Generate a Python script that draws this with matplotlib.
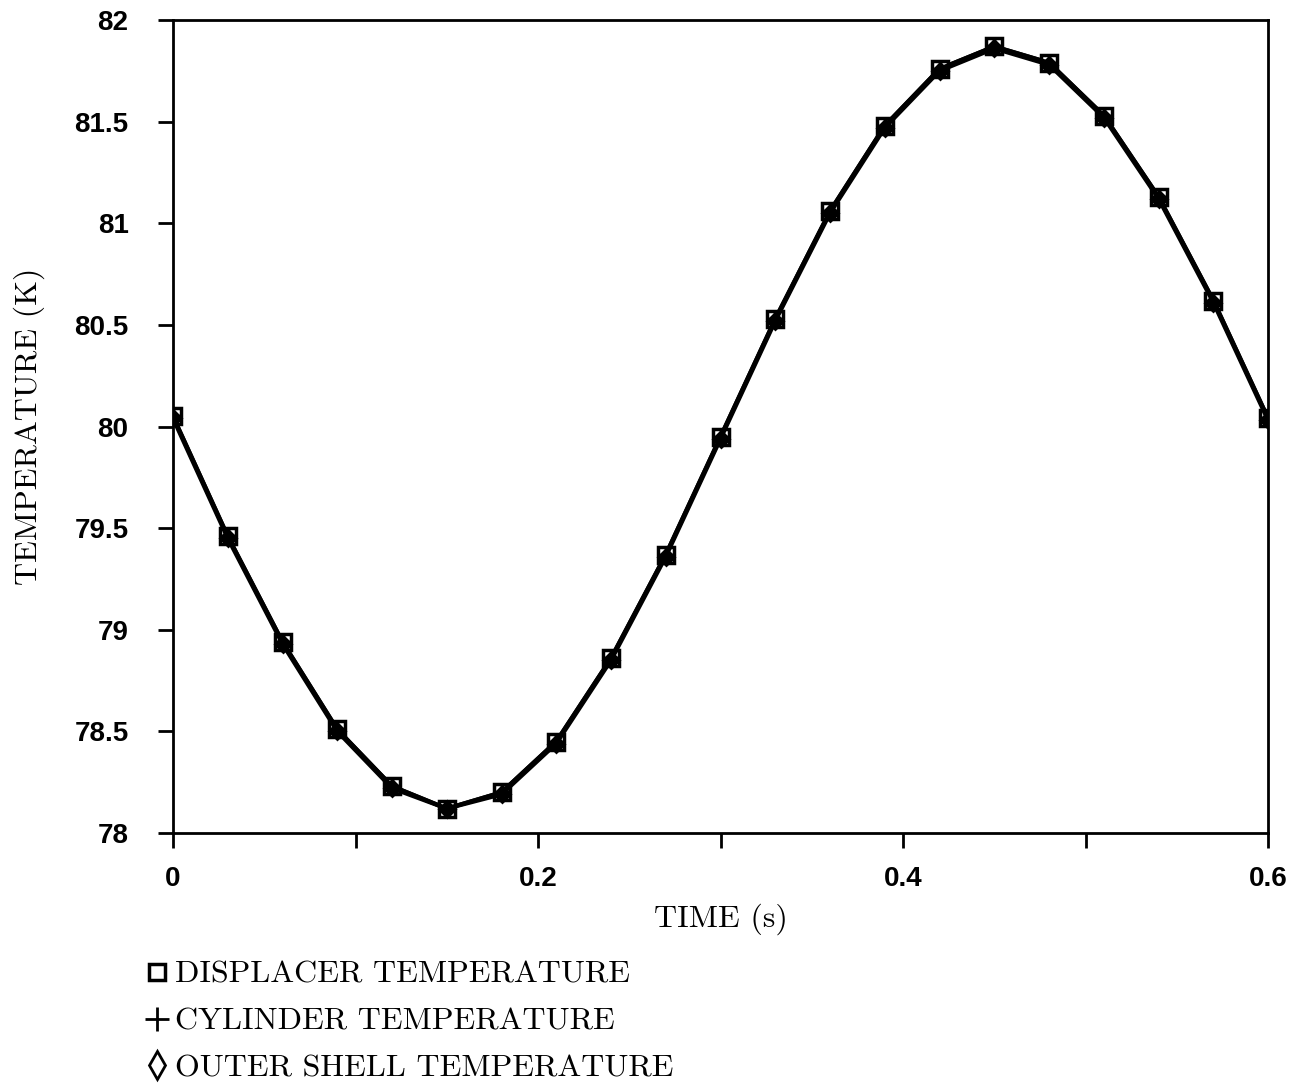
import matplotlib.pyplot as plt
from matplotlib.lines import Line2D

time_s = [0.0, 0.03, 0.06, 0.09, 0.12, 0.15, 0.18, 0.21, 0.24, 0.27, 0.30,
          0.33, 0.36, 0.39, 0.42, 0.45, 0.48, 0.51, 0.54, 0.57, 0.60]
displacer_temp = [80.05, 79.46, 78.94, 78.51, 78.23, 78.12, 78.20, 78.45, 78.86, 79.37, 79.95,
                  80.53, 81.06, 81.48, 81.76, 81.87, 81.79, 81.53, 81.13, 80.62, 80.04]
cylinder_temp = [80.05, 79.46, 78.94, 78.51, 78.23, 78.12, 78.20, 78.45, 78.86, 79.37, 79.95,
                 80.53, 81.06, 81.48, 81.76, 81.87, 81.79, 81.53, 81.13, 80.62, 80.04]
shell_temp = [80.04, 79.45, 78.93, 78.50, 78.22, 78.12, 78.19, 78.44, 78.85, 79.36, 79.94,
              80.52, 81.05, 81.47, 81.75, 81.86, 81.78, 81.52, 81.12, 80.61, 80.03]

legend_labels = ['DISPLACER TEMPERATURE', 'CYLINDER TEMPERATURE', 'OUTER SHELL TEMPERATURE']

serif = 'cmr10'

fig = plt.figure(figsize=(12.94, 10.89), dpi=100)
ax = fig.add_axes([0.1337, 0.2351, 0.8463, 0.7465])

ax.plot(time_s, displacer_temp, color='black', lw=3, marker='s', ms=11,
        mfc='white', mec='black', mew=2.5, zorder=3)
ax.plot(time_s, cylinder_temp, color='black', lw=3, marker='+', ms=12,
        mec='black', mew=2.5, zorder=4)
ax.plot(time_s, shell_temp, color='black', lw=3, marker='D', ms=8,
        mfc='black', mec='black', mew=2, zorder=5)

ax.set_xlim(0, 0.6)
ax.set_ylim(78, 82)
ax.set_xticks([0, 0.2, 0.4, 0.6])
ax.set_xticklabels(['0', '0.2', '0.4', '0.6'])
ax.set_xticks([0.1, 0.3, 0.5], minor=True)
yt = [78, 78.5, 79, 79.5, 80, 80.5, 81, 81.5, 82]
ax.set_yticks(yt)
ax.set_yticklabels(['78', '78.5', '79', '79.5', '80', '80.5', '81', '81.5', '82'])
ax.tick_params(axis='both', which='both', direction='out', length=11, width=2,
               labelsize=20, color='black')
ax.tick_params(axis='y', pad=21)
ax.tick_params(axis='x', pad=13)
for lab in ax.get_xticklabels() + ax.get_yticklabels():
    lab.set_fontfamily('Liberation Sans')
    lab.set_fontweight('bold')
for sp in ax.spines.values():
    sp.set_linewidth(2)

ax.set_xlabel('TIME (s)', fontfamily=serif, fontsize=23, labelpad=8)
ax.set_ylabel('TEMPERATURE (K)', fontfamily=serif, fontsize=23, labelpad=21)

handles = [
    Line2D([], [], ls='none', marker='s', ms=11, mfc='white', mec='black', mew=2.5),
    Line2D([], [], ls='none', marker='+', ms=17, mec='black', mew=2),
    Line2D([], [], ls='none', marker='d', ms=14, mfc='white', mec='black', mew=2),
]
fig.legend(handles, legend_labels, loc='upper left', bbox_to_anchor=(0.109, 0.118),
           frameon=False, prop={'family': serif, 'size': 23},
           handlelength=1, handletextpad=0.05, labelspacing=0.58,
           borderaxespad=0, borderpad=0)

fig.savefig('out.png', dpi=100)
